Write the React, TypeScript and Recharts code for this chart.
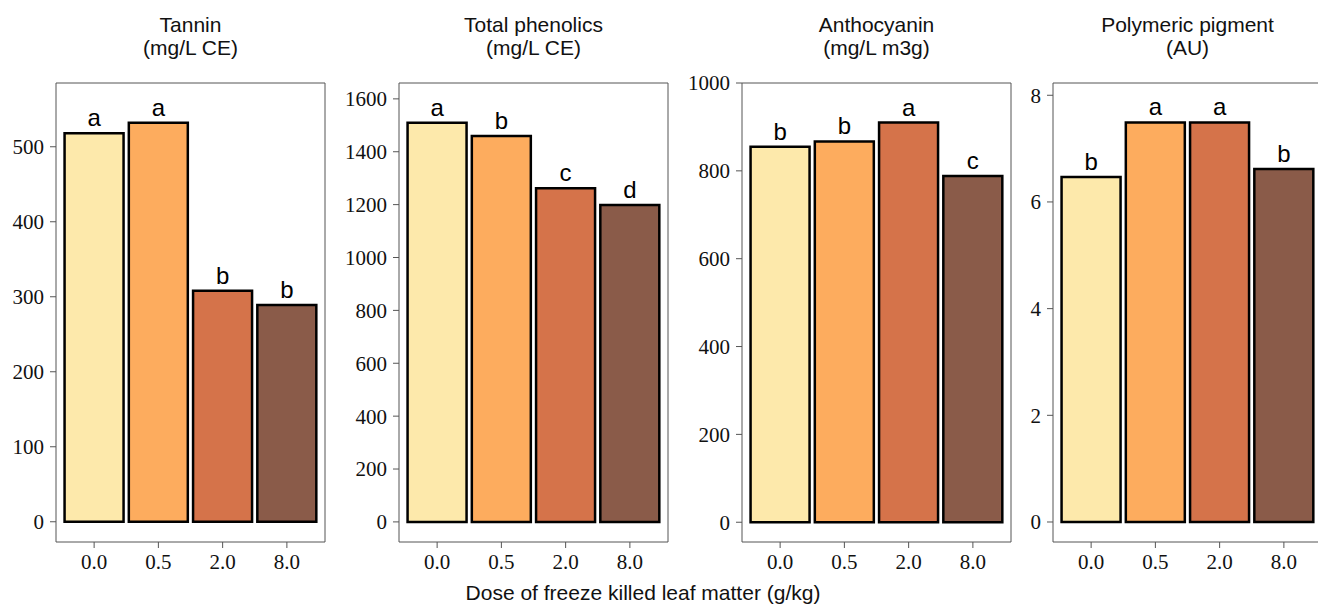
import { BarChart, Bar, XAxis, YAxis, Cell, LabelList } from 'recharts'

const doses = ['0.0', '0.5', '2.0', '8.0']
const barColors = ['#FDE9AB', '#FDAC5E', '#D5734A', '#8A5B49']

const tanninValues = [518, 532, 308, 289]
const tanninLetters = ['a', 'a', 'b', 'b']
const tanninTicks = [0, 100, 200, 300, 400, 500]

const phenolicsValues = [1510, 1460, 1262, 1199]
const phenolicsLetters = ['a', 'b', 'c', 'd']
const phenolicsTicks = [0, 200, 400, 600, 800, 1000, 1200, 1400, 1600]

const anthoValues = [855, 867, 910, 788]
const anthoLetters = ['b', 'b', 'a', 'c']
const anthoTicks = [0, 200, 400, 600, 800, 1000]

const pigmentValues = [6.47, 7.49, 7.49, 6.62]
const pigmentLetters = ['b', 'a', 'a', 'b']
const pigmentTicks = [0, 2, 4, 6, 8]

const SANS = '"Liberation Sans", Arial, Helvetica, sans-serif'
const SERIF = '"Liberation Serif", "Times New Roman", serif'
const AXIS = '#555'

interface PanelProps {
  title: string
  unit: string
  values: number[]
  letters: string[]
  ticks: number[]
  domain: [number, number]
  left: number
}

const AXIS_W = 60
const PLOT_W = 269

function Panel({ title, unit, values, letters, ticks, domain, left }: PanelProps) {
  const data = doses.map((d, i) => ({ dose: d, value: values[i], letter: letters[i] }))
  return (
    <>
      <div
        style={{
          position: 'absolute',
          left,
          top: 13,
          width: PLOT_W,
          textAlign: 'center',
          fontFamily: SANS,
          fontSize: 21,
          lineHeight: '23px',
          color: '#111',
        }}
      >
        {title}
        <br />
        {unit}
      </div>
      <div style={{ position: 'absolute', left: left - AXIS_W, top: 0 }}>
        <BarChart
          width={AXIS_W + PLOT_W + 1}
          height={606}
          data={data}
          margin={{ top: 82, right: 0, left: 0, bottom: 0 }}
          barCategoryGap="4%"
        >
          <XAxis
            dataKey="dose"
            height={64}
            padding={{ left: 6, right: 6 }}
            stroke={AXIS}
            tickSize={6}
            tickMargin={6}
            tick={{ fontFamily: SERIF, fontSize: 21, fill: '#111' }}
          />
          <XAxis
            xAxisId="top"
            dataKey="dose"
            orientation="top"
            height={1}
            stroke={AXIS}
            tick={false}
            tickLine={false}
          />
          <YAxis
            width={AXIS_W}
            domain={domain}
            ticks={ticks}
            allowDataOverflow
            stroke={AXIS}
            tickSize={6}
            tickMargin={6}
            tick={{ fontFamily: SERIF, fontSize: 21, fill: '#111' }}
          />
          <YAxis
            yAxisId="right"
            orientation="right"
            width={1}
            domain={domain}
            allowDataOverflow
            stroke={AXIS}
            tick={false}
            tickLine={false}
          />
          <Bar dataKey="value" stroke="#000" strokeWidth={2.5} isAnimationActive={false}>
            {data.map((_, i) => (
              <Cell key={i} fill={barColors[i]} />
            ))}
            <LabelList
              dataKey="letter"
              position="top"
              offset={7}
              style={{ fontFamily: SANS, fontSize: 24, fill: '#000' }}
            />
          </Bar>
        </BarChart>
      </div>
    </>
  )
}

export default function App() {
  return (
    <div
      style={{
        position: 'absolute',
        left: 0,
        top: 0,
        width: 1318,
        height: 606,
        overflow: 'hidden',
        background: '#fff',
      }}
    >
      <Panel title="Tannin" unit="(mg/L CE)" values={tanninValues} letters={tanninLetters} ticks={tanninTicks} domain={[-27, 585]} left={56} />
      <Panel title="Total phenolics" unit="(mg/L CE)" values={phenolicsValues} letters={phenolicsLetters} ticks={phenolicsTicks} domain={[-76, 1660]} left={399} />
      <Panel title="Anthocyanin" unit="(mg/L m3g)" values={anthoValues} letters={anthoLetters} ticks={anthoTicks} domain={[-45, 1000]} left={742} />
      <Panel title="Polymeric pigment" unit="(AU)" values={pigmentValues} letters={pigmentLetters} ticks={pigmentTicks} domain={[-0.375, 8.23]} left={1053} />
      <div
        style={{
          position: 'absolute',
          left: 0,
          top: 581,
          width: 1286,
          textAlign: 'center',
          fontFamily: SANS,
          fontSize: 21,
          lineHeight: '23px',
          color: '#111',
        }}
      >
        Dose of freeze killed leaf matter (g/kg)
      </div>
    </div>
  )
}
